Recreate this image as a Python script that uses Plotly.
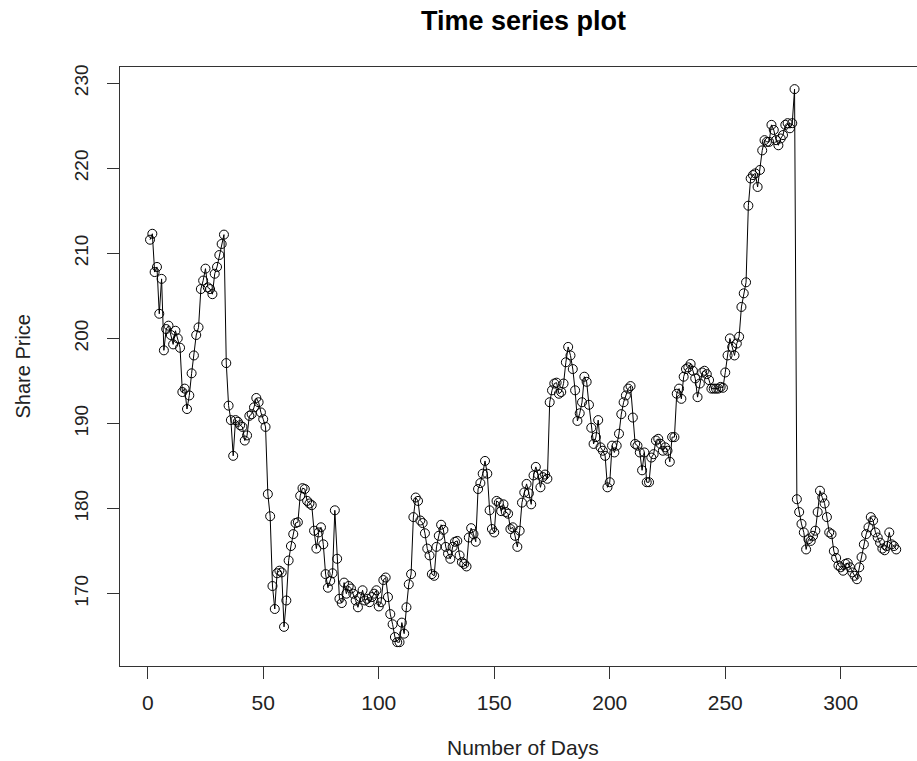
import plotly.graph_objects as go

# Share price by day
price_days_1_33 = [211.6, 212.3, 207.8, 208.4, 202.9, 207.0, 198.6, 201.1, 201.5, 200.4,
                   199.3, 200.9, 200.0, 198.9, 193.7, 194.1, 191.7, 193.3, 195.9, 198.0,
                   200.4, 201.3, 205.8, 206.8, 208.2, 206.0, 205.8, 205.2, 207.6, 208.4,
                   209.8, 211.1, 212.2]
price_days_34_51 = [197.1, 192.1, 190.4, 186.2, 190.4, 190.2, 189.8, 189.6, 188.0, 188.6,
                    190.9, 191.1, 191.9, 193.0, 192.5, 191.3, 190.5, 189.6]
price_days_52_103 = [181.7, 179.1, 170.9, 168.2, 172.4, 172.7, 172.5, 166.1, 169.2, 173.9,
                     175.6, 177.0, 178.3, 178.4, 181.5, 182.4, 182.3, 180.9, 180.6, 180.4,
                     177.4, 175.3, 177.2, 177.8, 175.8, 172.3, 170.7, 171.5, 172.4, 179.8,
                     174.1, 169.4, 168.9, 171.3, 170.0, 170.9, 170.6, 170.0, 169.2, 168.4,
                     169.6, 170.4, 169.2, 169.4, 169.0, 169.6, 170.0, 170.4, 168.5, 169.0,
                     171.6, 171.9]
price_days_104_154 = [169.6, 167.6, 166.4, 164.9, 164.3, 164.3, 166.6, 165.3, 168.4, 171.1,
                      172.3, 179.0, 181.3, 180.9, 178.6, 178.3, 177.1, 175.3, 174.5, 172.3,
                      172.1, 175.5, 176.8, 178.1, 177.5, 175.5, 174.7, 174.1, 175.5, 176.1,
                      176.2, 174.5, 173.7, 173.5, 173.2, 176.6, 177.7, 177.0, 176.1, 182.3,
                      183.0, 184.1, 185.6, 184.1, 179.8, 177.6, 177.2, 180.9, 180.7, 179.7,
                      180.5]
price_days_155_208 = [179.6, 179.4, 177.6, 177.8, 176.8, 175.5, 177.4, 180.7, 181.9, 182.9,
                      181.8, 180.5, 183.9, 184.9, 184.0, 182.5, 183.7, 184.0, 183.5, 192.5,
                      193.9, 194.7, 194.8, 193.5, 193.7, 194.7, 197.2, 199.0, 198.0, 196.4,
                      193.9, 190.3, 191.2, 192.5, 195.5, 194.9, 192.2, 189.5, 187.6, 188.4,
                      190.4, 187.2, 186.8, 186.2, 182.5, 183.1, 187.4, 186.6, 187.4, 188.8,
                      191.1, 192.5, 193.3, 194.1]
price_days_209_259 = [194.4, 190.7, 187.6, 187.4, 186.6, 184.5, 186.6, 183.1, 183.1, 186.0,
                      186.4, 188.0, 188.2, 187.6, 186.8, 187.2, 186.8, 185.5, 188.4, 188.4,
                      193.5, 194.1, 192.9, 195.5, 196.4, 196.6, 197.0, 196.2, 195.3, 193.1,
                      194.7, 196.0, 196.2, 195.8, 195.1, 194.1, 194.1, 194.1, 194.1, 194.3,
                      194.2, 196.0, 198.0, 200.0, 199.0, 198.0, 199.4, 200.2, 203.7, 205.3,
                      206.6]
price_days_260_280 = [215.6, 218.8, 219.2, 219.4, 217.8, 219.8, 222.1, 223.3, 223.1, 223.1,
                      225.1, 224.5, 223.3, 222.7, 223.5, 223.9, 225.1, 225.3, 224.7, 225.3,
                      229.3]
price_days_281_324 = [181.1, 179.6, 178.2, 177.2, 175.2, 176.4, 176.2, 176.8, 177.4, 179.6,
                      182.1, 181.3, 180.6, 179.0, 177.2, 177.0, 175.0, 174.2, 173.3, 173.1,
                      172.7, 173.5, 173.6, 173.1, 172.5, 172.1, 171.7, 173.1, 174.3, 175.8,
                      177.0, 177.8, 179.0, 178.6, 177.2, 176.6, 176.0, 175.3, 175.1, 175.6,
                      177.2, 175.8, 175.6, 175.2]

share_price = (price_days_1_33 + price_days_34_51 + price_days_52_103 + price_days_104_154
               + price_days_155_208 + price_days_209_259 + price_days_260_280 + price_days_281_324)
days = list(range(1, len(share_price) + 1))

x_ticks = [0, 50, 100, 150, 200, 250, 300]
y_ticks = [170, 180, 190, 200, 210, 220, 230]

title_text = "Time series plot"
x_label = "Number of Days"
y_label = "Share Price"

FONT = "Liberation Sans, Arial, sans-serif"

fig = go.Figure()
fig.add_trace(go.Scatter(
    x=days, y=share_price, mode="lines+markers",
    line=dict(color="black", width=1),
    marker=dict(symbol="circle-open", size=9, color="black", line=dict(width=1, color="black")),
    hoverinfo="x+y",
))

fig.update_layout(
    width=917, height=761,
    margin=dict(l=120, r=0, t=67, b=95),
    plot_bgcolor="white", paper_bgcolor="white",
    showlegend=False,
    font=dict(family=FONT, color="#222"),
    xaxis=dict(
        range=[-12, 333], tickvals=x_ticks, ticktext=[str(v) for v in x_ticks],
        ticks="outside", ticklen=12, tickwidth=1, tickcolor="#333",
        showline=True, linecolor="#333", linewidth=1, mirror=True,
        showgrid=False, zeroline=False,
        tickfont=dict(size=21, color="#222", family=FONT),
        ticklabelstandoff=6,
    ),
    yaxis=dict(
        range=[161.5, 231.9], tickvals=y_ticks, ticktext=[str(v) for v in y_ticks],
        ticks="outside", ticklen=12, tickwidth=1, tickcolor="#333",
        showline=True, linecolor="#333", linewidth=1, mirror=False,
        showgrid=False, zeroline=False, tickangle=-90,
        tickfont=dict(size=19, color="#222", family=FONT),
        ticklabelstandoff=11,
    ),
    annotations=[
        dict(text="<b>" + title_text + "</b>", xref="paper", yref="paper",
             x=0.506, y=(666 - 21) / 599, xanchor="center", yanchor="middle",
             showarrow=False, font=dict(size=27, color="black", family=FONT)),
        dict(text=x_label, xref="paper", yref="paper",
             x=0.506, y=(666 - 748) / 599, xanchor="center", yanchor="middle",
             showarrow=False, font=dict(size=21, color="#222", family=FONT)),
        dict(text=y_label, xref="paper", yref="paper",
             x=(22 - 120) / 797, y=0.5, xanchor="center", yanchor="middle",
             textangle=-90, showarrow=False, font=dict(size=20, color="#222", family=FONT)),
    ],
)

fig.write_html("out.html")
